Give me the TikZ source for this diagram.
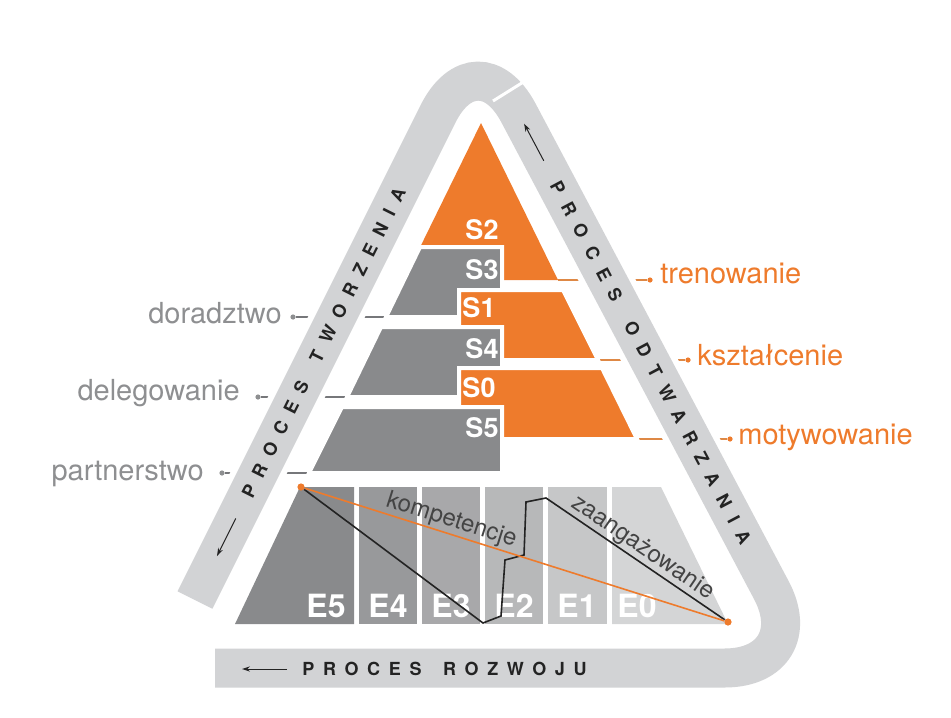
\documentclass[tikz,border=0pt]{standalone}
\usepackage{fontspec}
\setmainfont{TeX Gyre Heros}
\newfontfamily\bandfont{TeX Gyre Heros}[LetterSpace=50]
\usepackage{tikz}
\usetikzlibrary{arrows.meta,calc}
\definecolor{pyrorange}{HTML}{EE7B2C}
\definecolor{pyrgray}{HTML}{898A8C}
\definecolor{pyrband}{HTML}{D2D3D5}
\definecolor{pyrlabel}{HTML}{8E8F91}
\definecolor{pyrline}{HTML}{76777A}
\definecolor{pyrlink}{HTML}{DE8845}
\definecolor{pyrtext}{HTML}{232323}

\tikzset{
  block/.style={draw=white, line width=2pt},
  slbl/.style={text=white, font=\bfseries\fontsize{13.5}{14}\selectfont, inner sep=0pt},
  elbl/.style={text=white, font=\bfseries\fontsize{16}{16}\selectfont, inner sep=0pt, anchor=base},
  leftlbl/.style={text=pyrlabel, font=\fontsize{14.5}{16}\selectfont, inner sep=0pt, anchor=base east},
  rightlbl/.style={text=pyrorange, font=\fontsize{14.5}{16}\selectfont, inner sep=0pt, anchor=base west},
  ldot/.style={circle, fill=pyrlabel, inner sep=0pt, minimum size=2.6pt},
  rdot/.style={circle, fill=pyrorange, inner sep=0pt, minimum size=2.6pt},
  odot/.style={circle, fill=pyrorange, inner sep=0pt, minimum size=3.6pt},
  bandtxt/.style={text=pyrtext, font=\bandfont\bfseries\addfontfeature{LetterSpace=#1}\fontsize{9}{9}\selectfont, inner sep=0pt, anchor=west},
  bandarrow/.style={pyrtext, line width=0.5pt, -{Stealth[length=4pt,width=2.6pt]}},
  slopetxt/.style={text=pyrtext!85, font=\fontsize{12}{12}\selectfont, sloped, anchor=south, inner sep=0.6pt},
}

\begin{document}
\begin{tikzpicture}[x=0.5pt,y=-0.5pt]
  \useasboundingbox (0,0) rectangle (951,717);
  % label dots
  \node[ldot] (d-dorad) at (293,317) {};
  \node[ldot] (d-deleg) at (258,397) {};
  \node[ldot] (d-partn) at (222,473) {};
  \node[rdot] (d-tren) at (650,280) {};
  \node[rdot] (d-kszt) at (688,360) {};
  \node[rdot] (d-motyw) at (730,439) {};
  % block corners
  \coordinate (s3-bl) at (386,317);
  \coordinate (s4-bl) at (347,397);
  \coordinate (s5-bl) at (309,473);
  \coordinate (s2-br) at (558,280);
  \coordinate (s1-br) at (598,360);
  \coordinate (s0-br) at (637,439);
  \draw[pyrline, line width=0.6pt] (d-dorad) -- (s3-bl);
  \draw[pyrline, line width=0.6pt] (d-deleg) -- (s4-bl);
  \draw[pyrline, line width=0.6pt] (d-partn) -- (s5-bl);
  \draw[pyrlink, line width=0.6pt] (d-tren) -- (s2-br);
  \draw[pyrlink, line width=0.6pt] (d-kszt) -- (s1-br);
  \draw[pyrlink, line width=0.6pt] (d-motyw) -- (s0-br);

  % band round the pyramid
  \draw[white, line width=25.5pt, rounded corners=44pt] (195,600) -- (477.3,35.3) -- (812.6,668) [rounded corners=30pt] -- (215,668);
  \draw[pyrband, line width=19.5pt, rounded corners=44pt] (195,600) -- (477.3,35.3) -- (812.6,668) [rounded corners=30pt] -- (215,668);
  \draw[white, line width=1.5pt] (493,101) -- (533,76);

  \node[bandtxt=58, rotate=63.43] (tworz) at (246.5,497) {PROCES\hspace{4pt} TWORZENIA};
  \draw[bandarrow] ($(tworz.west)!-12pt!(tworz.east)$) -- ($(tworz.west)!-33pt!(tworz.east)$);
  \node[bandtxt=64, rotate=-62.08] (odtw) at (555,182) {PROCES\hspace{4pt} ODTWARZANIA};
  \draw[bandarrow] ($(odtw.west)!-12pt!(odtw.east)$) -- ($(odtw.west)!-33pt!(odtw.east)$);
  \node[bandtxt=48] (rozw) at (302,669) {PROCES\hspace{4pt} ROZWOJU};
  \draw[bandarrow] ($(rozw.west)!-7.5pt!(rozw.east)$) -- ($(rozw.west)!-30pt!(rozw.east)$);

  % pyramid
  \fill[pyrorange] (481,123) -- (558,280) -- (404,280) -- cycle;
  \filldraw[block, fill=pyrgray] (420,247) -- (502,247) -- (502,317) -- (386,317) -- cycle;
  \filldraw[block, fill=pyrorange] (459,290) -- (563,290) -- (598,360) -- (459,360) -- cycle;
  \filldraw[block, fill=pyrgray] (381,327) -- (502,327) -- (502,397) -- (347,397) -- cycle;
  \filldraw[block, fill=pyrorange] (459,368) -- (602,368) -- (637,439) -- (459,439) -- cycle;
  \filldraw[block, fill=pyrgray] (342,407) -- (502,407) -- (502,473) -- (309,473) -- cycle;
  \node[slbl] (s2) at (482,230) {S2};
  \node[slbl] (s3) at (482,270) {S3};
  \node[slbl] (s1) at (479,308) {S1};
  \node[slbl] (s4) at (482,349) {S4};
  \node[slbl] (s0) at (479,388) {S0};
  \node[slbl] (s5) at (482,428) {S5};

  % base columns
  \fill[pyrgray] (300,487) -- (354,487) -- (354,624) -- (235,624) -- cycle;
  \fill[pyrgray!87] (359,487) rectangle (417,624);
  \fill[pyrgray!74] (422,487) rectangle (480,624);
  \fill[pyrgray!61] (485,487) rectangle (543,624);
  \fill[pyrgray!48] (548,487) rectangle (607,624);
  \fill[pyrgray!36] (612,487) -- (661,487) -- (728,624) -- (612,624) -- cycle;
  \node[elbl] (e5) at (326,617) {E5};
  \node[elbl] (e4) at (388,617) {E4};
  \node[elbl] (e3) at (451,617) {E3};
  \node[elbl] (e2) at (514,617) {E2};
  \node[elbl] (e1) at (577,617) {E1};
  \node[elbl] (e0) at (637,617) {E0};

  \node[odot] (k-start) at (301,487) {};
  \node[odot] (k-end) at (728,622) {};
  \draw[pyrtext, line width=0.8pt] (k-start) -- (483,623) -- (501,616) -- (505,560) -- (524,555) -- (526,502) -- (546,498)
    -- node[slopetxt, pos=0.5] {zaangażowanie} (k-end);
  \draw[pyrorange, line width=0.8pt] (k-start) -- node[slopetxt, pos=0.34] {kompetencje} (k-end);

  % side labels
  \node[leftlbl] (dorad) at (282,323) {doradztwo};
  \node[leftlbl] (deleg) at (240,400) {delegowanie};
  \node[leftlbl] (partn) at (204,480) {partnerstwo};
  \node[rightlbl] (tren) at (660,283) {trenowanie};
  \node[rightlbl] (kszt) at (697,365) {kształcenie};
  \node[rightlbl] (motyw) at (738,444) {motywowanie};
\end{tikzpicture}
\end{document}
